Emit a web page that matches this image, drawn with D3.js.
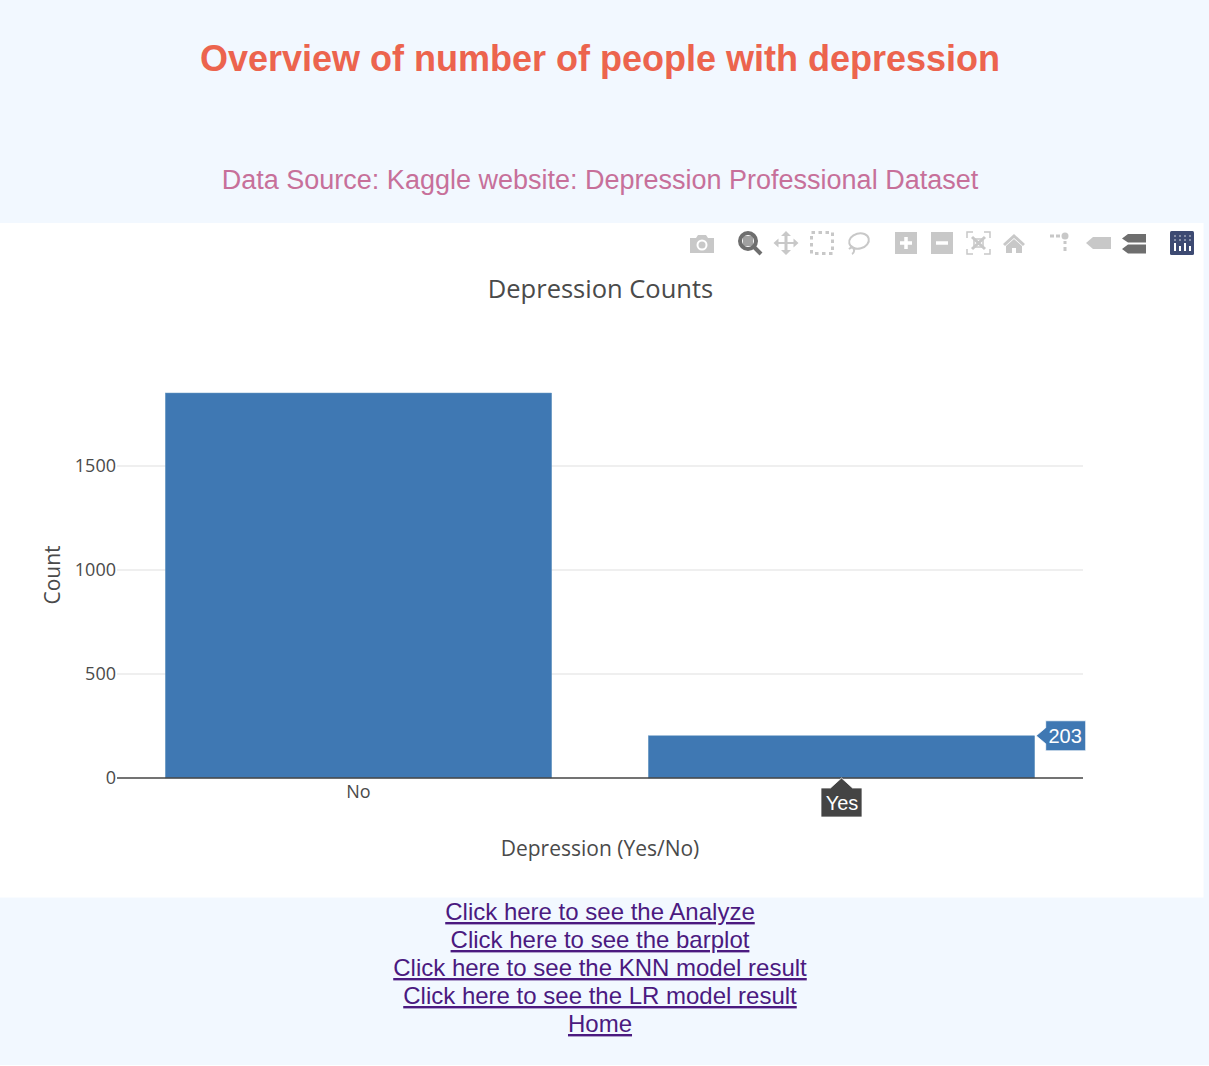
<!DOCTYPE html>
<html><head><meta charset="utf-8">
<script src="https://cdn.jsdelivr.net/npm/d3@7/dist/d3.min.js"></script>
<style>
html,body{margin:0;padding:0;background:#fff;overflow:hidden}
svg{display:block}
</style></head><body>
<svg id="c" width="1209" height="1066"></svg>
<script>
const categories = ["No", "Yes"];
const counts = [1851, 203];
const yTicks = [0, 500, 1000, 1500];
const links = ["Click here to see the Analyze","Click here to see the barplot","Click here to see the KNN model result","Click here to see the LR model result","Home"];
const SANS = "'Liberation Sans',Arial,sans-serif", OPEN = "'Open Sans',sans-serif";
const svg = d3.select("#c");
svg.append("rect").attr("width",1209).attr("height",1065).attr("fill","#f2f8ff");
svg.append("rect").attr("x",0).attr("y",223).attr("width",1203.500).attr("height",674.500).attr("fill","#fff");
const txt=(x,y,s,size,fill,fam,extra={})=>{const t=svg.append("text").attr("x",x).attr("y",y).attr("text-anchor",extra.anchor||"middle").attr("font-size",size).attr("fill",fill).attr("font-family",fam).text(s);if(extra.weight)t.attr("font-weight",extra.weight);return t;};
txt(600,71,"Overview of number of people with depression",36,"#ec644e",SANS,{weight:"bold"});
txt(600,189,"Data Source: Kaggle website: Depression Professional Dataset",27,"#c7709a",SANS);
txt(600.5,298,"Depression Counts",25.5,"#4a4a4a",OPEN);

const x = d3.scaleBand().domain(categories).range([117,1083]).paddingInner(0.2).paddingOuter(0.1);
const y = d3.scaleLinear().domain([0,1851]).range([778,393]);

const gy = svg.append("g").attr("transform","translate(117,0)")
  .call(d3.axisLeft(y).tickValues(yTicks).tickSize(0).tickPadding(1).tickFormat(d3.format("d")));
gy.select(".domain").remove();
gy.selectAll("text").attr("font-family",OPEN).attr("font-size",18).attr("fill","#4a4a4a");
svg.insert("g","g").selectAll("line").data(yTicks.filter(d=>d>0)).join("line")
  .attr("x1",117).attr("x2",1083).attr("y1",d=>y(d)).attr("y2",d=>y(d)).attr("stroke","#eaeaea").attr("stroke-width",1.5);

svg.append("g").selectAll("rect").data(categories).join("rect")
  .attr("x",d=>x(d)).attr("width",x.bandwidth()).attr("y",(d,i)=>y(counts[i])).attr("height",(d,i)=>778-y(counts[i]))
  .attr("fill","#3f78b3").attr("stroke","#6d9cc4").attr("stroke-width",.5);

svg.append("line").attr("x1",117).attr("x2",1083).attr("y1",778).attr("y2",778).attr("stroke","#444").attr("stroke-width",1.5);
txt(x("No")+x.bandwidth()/2,798,"No",18,"#4a4a4a",OPEN);
svg.append("text").attr("transform","translate(59.500,575) rotate(-90)").attr("text-anchor","middle").attr("font-family",OPEN).attr("font-size",21).attr("fill","#4a4a4a").text("Count");
txt(600,856,"Depression (Yes/No)",21,"#4a4a4a",OPEN);

// hover labels
const yesC = x("Yes")+x.bandwidth()/2, yesTop = y(counts[1]);
svg.append("path").attr("d",`M${yesC} 778 l11 10 h9.500 v29 h-41 v-29 h9.500 z`).attr("fill","#444").attr("stroke","#fff").attr("stroke-width",.75);
txt(yesC+.5,810,categories[1],20,"#fff",SANS);
const bx = x("Yes")+x.bandwidth();
svg.append("path").attr("d",`M${bx+1.500} ${yesTop} l9.500 -8 v-7 h40 v30 h-40 v-7 z`).attr("fill","#3f78b3").attr("stroke","#fff").attr("stroke-width",.75);
txt(bx+30.500,743,String(counts[1]),20,"#fff",SANS);

// mode bar
const ic = svg.append("g");
const c1="#c8c8c8", c2="#6e6e6e";
ic.append("path").attr("d","M690 238h6l2-3h8l2 3h6v15h-24z").attr("fill",c1);
ic.append("circle").attr("cx",702).attr("cy",245).attr("r",5.500).attr("fill","#fff");
ic.append("circle").attr("cx",702).attr("cy",245).attr("r",3.500).attr("fill",c1);
ic.append("circle").attr("cx",748).attr("cy",241).attr("r",8).attr("fill","none").attr("stroke",c2).attr("stroke-width",4);
ic.append("rect").attr("x",743).attr("y",236).attr("width",10).attr("height",10).attr("fill",c2).attr("opacity",.65);
ic.append("line").attr("x1",754).attr("y1",247).attr("x2",761).attr("y2",254).attr("stroke",c2).attr("stroke-width",4);
ic.append("path").attr("d","M786 231l5 5h-3.500v6h6v-3.500l5 4.500-5 4.500v-3.500h-6v6h3.500l-5 5-5-5h3.500v-6h-6v3.500l-5-4.500 5-4.500v3.500h6v-6h-3.500z").attr("fill",c1);
ic.append("rect").attr("x",811.500).attr("y",232.500).attr("width",21).attr("height",21).attr("fill","none").attr("stroke",c1).attr("stroke-width",3).attr("stroke-dasharray","3.500 3.500");
ic.append("ellipse").attr("cx",859).attr("cy",241).attr("rx",10).attr("ry",7.500).attr("fill","none").attr("stroke",c1).attr("stroke-width",2).attr("transform","rotate(-15 859 241)");
ic.append("path").attr("d","M851 246c5 3 3 7 1 8M849 249c2-2 5-2 6 0").attr("fill","none").attr("stroke",c1).attr("stroke-width",2);
ic.append("rect").attr("x",895).attr("y",232).attr("width",22).attr("height",22).attr("fill",c1);
ic.append("path").attr("d","M900 243h12M906 237v12").attr("stroke","#fff").attr("stroke-width",3.500);
ic.append("rect").attr("x",931).attr("y",232).attr("width",22).attr("height",22).attr("fill",c1);
ic.append("path").attr("d","M936 243h12").attr("stroke","#fff").attr("stroke-width",3.500);
ic.append("path").attr("d","M967 238v-6h6M984 232h6v6M990 249v5h-6M973 254h-6v-5").attr("fill","none").attr("stroke",c1).attr("stroke-width",1.500);
ic.append("path").attr("d","M972 237l13 12M985 237l-13 12").attr("stroke",c1).attr("stroke-width",3);
ic.append("rect").attr("x",974).attr("y",239).attr("width",9).attr("height",8).attr("fill","none").attr("stroke",c1).attr("stroke-width",1.500);
ic.append("path").attr("d","M1003 244l11-10 11 10-2 2-9-8-9 8zM1006 246l8-7 8 7v7h-6v-5h-4v5h-6z").attr("fill",c1);
ic.append("circle").attr("cx",1065).attr("cy",236).attr("r",3.500).attr("fill",c1);
ic.append("path").attr("d","M1050 236h4M1056 236h4M1065 241v3M1065 247v4").attr("stroke",c1).attr("stroke-width",3);
ic.append("path").attr("d","M1086 243l7-6h18v12h-18z").attr("fill",c1);
ic.append("path").attr("d","M1122 238.500l6-4.500h18v8.500h-18zM1122 249l6-4.500h18v9h-18z").attr("fill",c2);
ic.append("rect").attr("x",1170).attr("y",231).attr("width",24).attr("height",24).attr("rx",1.500).attr("fill","#3d4a72");
ic.append("path").attr("d","M1175 243v8M1180 246v5M1185 243v8M1190 246v5").attr("stroke","#fff").attr("stroke-width",2);
ic.append("path").attr("d","M1174.500 236h1M1179.500 236h1M1184.500 236h1M1189.500 236h1M1174.500 240h1M1179.500 240h1M1184.500 240h1M1189.500 240h1").attr("stroke","#fff").attr("stroke-width",1.500);

// links
links.forEach((s,i)=>{
  txt(600,920+28*i,s,24,"#4b1a80",SANS).attr("text-decoration","underline");
});
</script></body></html>
